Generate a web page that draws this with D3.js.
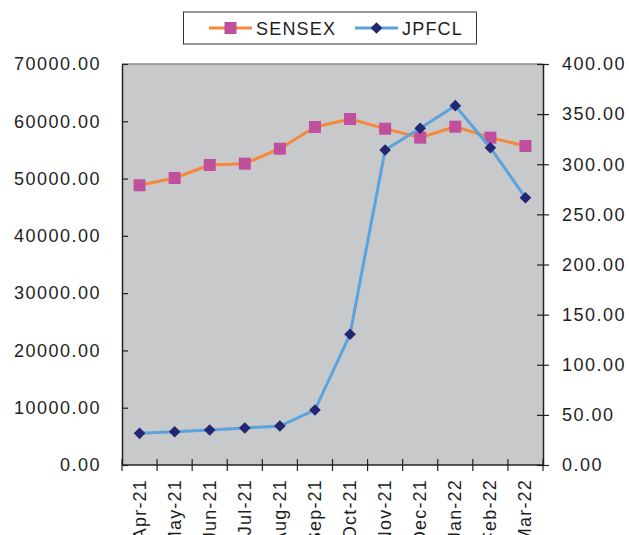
<!DOCTYPE html>
<html>
<head>
<meta charset="utf-8">
<script src="https://cdn.jsdelivr.net/npm/d3@7"></script>
<style>
  html, body { margin: 0; padding: 0; background: #fff; }
  svg { display: block; font-family: "Liberation Sans", Arial, sans-serif; }
</style>
</head>
<body>
<svg id="chart" width="629" height="535"></svg>
<script>
const months = ["Apr-21","May-21","Jun-21","Jul-21","Aug-21","Sep-21","Oct-21","Nov-21","Dec-21","Jan-22","Feb-22","Mar-22"];
const sensex = [48830, 50100, 52370, 52600, 55210, 59000, 60400, 58710, 57140, 59060, 57140, 55690];
const jpfcl = [31.6, 33.2, 34.9, 36.9, 38.9, 54.9, 130.4, 314.2, 335.9, 358.4, 316.5, 266.6];
const leftTicks = [0, 10000, 20000, 30000, 40000, 50000, 60000, 70000];
const rightTicks = [0, 50, 100, 150, 200, 250, 300, 350, 400];
const seriesNames = ["SENSEX", "JPFCL"];

const svg = d3.select("#chart");
const m = { left: 122, right: 543, top: 64, bottom: 465 };

const x = d3.scaleBand().domain(months).range([m.left, m.right]).padding(0);
const yL = d3.scaleLinear().domain([0, 70000]).range([m.bottom, m.top]);
const yR = d3.scaleLinear().domain([0, 400]).range([m.bottom, m.top]);

// plot background
svg.append("rect")
  .attr("x", m.left).attr("y", m.top)
  .attr("width", m.right - m.left).attr("height", m.bottom - m.top)
  .attr("fill", "#c8c9cb");
svg.append("line").attr("x1", m.left).attr("x2", m.right).attr("y1", m.top).attr("y2", m.top)
  .attr("stroke", "#8a8b8d").attr("stroke-width", 1.5);

const fmt = d3.format(".2f");
const textColor = "#1e1e1e";

// left axis
const gL = svg.append("g").attr("transform", `translate(${m.left},0)`)
  .call(d3.axisLeft(yL).tickValues(leftTicks).tickFormat(fmt).tickSizeInner(7).tickSizeOuter(0));
gL.selectAll(".tick line").attr("x2", 6);
// right axis
const gR = svg.append("g").attr("transform", `translate(${m.right},0)`)
  .call(d3.axisRight(yR).tickValues(rightTicks).tickFormat(fmt).tickSizeInner(6).tickSizeOuter(0));
gR.selectAll(".tick line").attr("x1", -6);
// bottom axis: ticks at band edges
const gB = svg.append("g").attr("transform", `translate(0,${m.bottom})`);
gB.append("line").attr("x1", m.left).attr("x2", m.right).attr("stroke", "#222").attr("stroke-width", 1.5);
const edges = months.map(d => x(d)).concat([m.right]);
gB.selectAll("line.tk").data(edges).join("line").attr("class", "tk")
  .attr("x1", d => d).attr("x2", d => d).attr("y1", -6).attr("y2", 6)
  .attr("stroke", "#222").attr("stroke-width", 1.2);
gB.selectAll("text").data(months).join("text")
  .attr("transform", d => `translate(${x(d) + x.bandwidth() / 2 + 6},14) rotate(-90)`)
  .attr("text-anchor", "end")
  .attr("font-size", 18).attr("letter-spacing", 1.2).attr("fill", textColor)
  .text(d => d);

[gL, gR].forEach(g => {
  g.select(".domain").attr("stroke", "#222").attr("stroke-width", 1.5);
  g.selectAll(".tick line").attr("stroke", "#222").attr("stroke-width", 1.2);
  g.selectAll(".tick text").attr("font-size", 18).attr("letter-spacing", 1.5).attr("fill", textColor)
    .attr("font-family", "Liberation Sans, Arial, sans-serif");
});
gL.selectAll(".tick text").attr("x", -21);
gR.selectAll(".tick text").attr("x", 19);

const cx = d => x(d) + x.bandwidth() / 2;

// SENSEX
const lineL = d3.line().x((d, i) => cx(months[i])).y(d => yL(d));
svg.append("path").datum(sensex).attr("d", lineL)
  .attr("fill", "none").attr("stroke", "#f5883a").attr("stroke-width", 3);
svg.selectAll("rect.sq").data(sensex).join("rect").attr("class", "sq")
  .attr("x", (d, i) => cx(months[i]) - 6).attr("y", d => yL(d) - 6)
  .attr("width", 12).attr("height", 12).attr("fill", "#c04f9e");

// JPFCL
const lineR = d3.line().x((d, i) => cx(months[i])).y(d => yR(d));
svg.append("path").datum(jpfcl).attr("d", lineR)
  .attr("fill", "none").attr("stroke", "#5ba3dd").attr("stroke-width", 3);
const diamond = d3.symbol().type(d3.symbolSquare).size(68);
svg.selectAll("path.dm").data(jpfcl).join("path").attr("class", "dm")
  .attr("d", diamond)
  .attr("transform", (d, i) => `translate(${cx(months[i])},${yR(d)}) rotate(45)`)
  .attr("fill", "#232673");

// Legend
const lg = svg.append("g");
lg.append("rect").attr("x", 183.5).attr("y", 12).attr("width", 293).attr("height", 32)
  .attr("fill", "#fff").attr("stroke", "#333").attr("stroke-width", 1);
const items = [
  { name: seriesNames[0], x0: 209, line: "#f5883a", marker: "sq", mc: "#c04f9e" },
  { name: seriesNames[1], x0: 355, line: "#5ba3dd", marker: "dm", mc: "#232673" }
];
items.forEach(it => {
  lg.append("line").attr("x1", it.x0).attr("x2", it.x0 + 43).attr("y1", 28).attr("y2", 28)
    .attr("stroke", it.line).attr("stroke-width", 3);
  if (it.marker === "sq") {
    lg.append("rect").attr("x", it.x0 + 21.5 - 6).attr("y", 22).attr("width", 12).attr("height", 12).attr("fill", it.mc);
  } else {
    lg.append("path").attr("d", diamond).attr("transform", `translate(${it.x0 + 21.5},28) rotate(45)`).attr("fill", it.mc);
  }
  lg.append("text").attr("x", it.x0 + 47).attr("y", 34.5)
    .attr("font-size", 18).attr("letter-spacing", 1.2).attr("fill", textColor).text(it.name);
});
</script>
</body>
</html>
